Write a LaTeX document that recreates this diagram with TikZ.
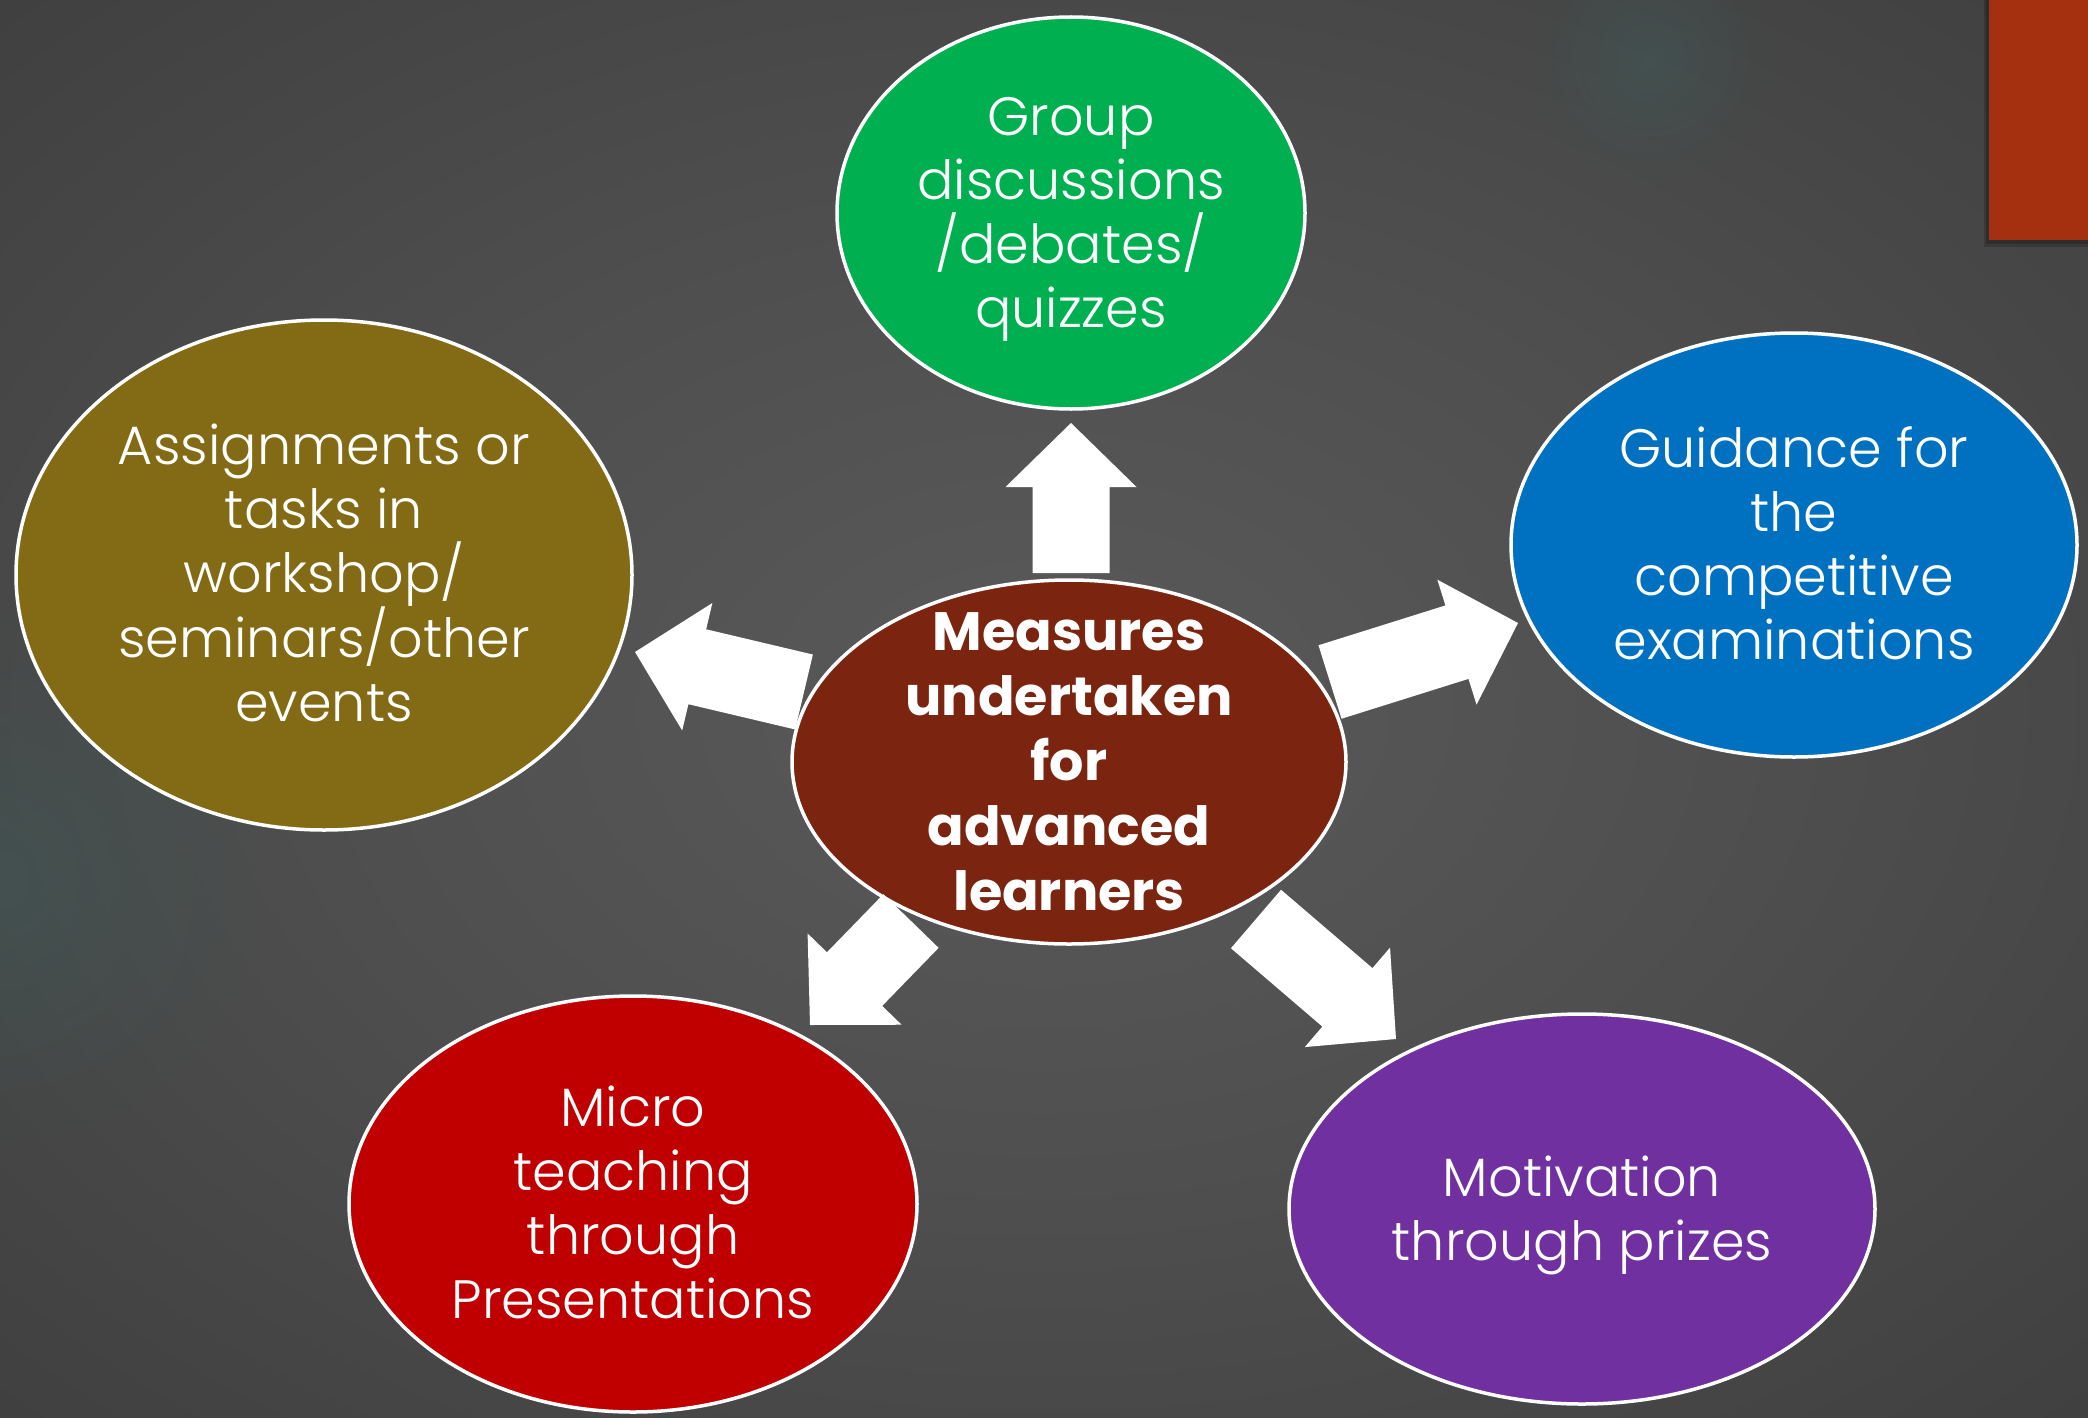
\documentclass[tikz,border=0pt]{standalone}
\usepackage{fontspec}
\setmainfont{Poppins}
\newfontfamily\lightfont{Poppins Light}
\usetikzlibrary{shapes.geometric,calc,fadings}
\definecolor{bgA}{HTML}{5A5A5A}
\definecolor{bgB}{HTML}{4E4E4E}
\definecolor{bgC}{HTML}{383838}
\definecolor{bgD}{HTML}{2A2A2A}
\definecolor{glow}{HTML}{3E5A58}
\definecolor{cmain}{HTML}{7B2410}
\definecolor{cgreen}{HTML}{00B050}
\definecolor{cblue}{HTML}{0070C0}
\definecolor{colive}{HTML}{836A14}
\definecolor{cred}{HTML}{C00000}
\definecolor{cpurple}{HTML}{7030A0}
\definecolor{crect}{HTML}{A5300F}
\pgfdeclareradialshading{bgshade}{\pgfpoint{0bp}{0bp}}{color(0bp)=(bgA); color(18bp)=(bgB); color(45bp)=(bgC); color(72bp)=(bgD)}
\tikzfading[name=glowfade, inner color=transparent!0, outer color=transparent!100]
\tikzset{
  bubble/.style={ellipse, draw=white, line width=3.5pt, inner sep=0pt},
  btext/.style={text=white, align=center, font=\lightfont\fontsize{54}{64}\selectfont},
  ctext/.style={text=white, align=center, font=\bfseries\fontsize{54}{65}\selectfont},
}
\newcommand\blockarr[2]{%
  \coordinate (B) at ($(#2)!64pt!(#1)$);
  \fill[white] ($(#1)!38.5pt!90:(#2)$) -- ($(B)!38.5pt!-90:(#1)$) -- ($(B)!65.5pt!-90:(#1)$) -- (#2)
     -- ($(B)!65.5pt!90:(#1)$) -- ($(B)!38.5pt!90:(#1)$) -- ($(#1)!38.5pt!-90:(#2)$) -- cycle;}
\begin{document}
\begin{tikzpicture}[x=1pt,y=-1pt]
\useasboundingbox (0,0) rectangle (2088,1418);
\shade[shading=bgshade] (0,0) rectangle (2088,1418);
\fill[glow, path fading=glowfade, opacity=0.5] (1650,60) circle (120);
\fill[glow, path fading=glowfade, opacity=0.5] (0,880) circle (260);
% top-right rectangle
\fill[black, opacity=0.18] (1984,0) rectangle (2088,247);
\fill[black, opacity=0.18] (1986,0) rectangle (2088,244);
\fill[crect] (1989,0) rectangle (2088,240);
% bubbles
\node[bubble, fill=cgreen, minimum width=468pt, minimum height=392pt] (g) at (1071,213) {};
\node[bubble, fill=cblue, minimum width=566pt, minimum height=424pt] (b) at (1794,545) {};
\node[bubble, fill=colive, minimum width=616pt, minimum height=510pt] (o) at (324,575) {};
\node[bubble, fill=cred, minimum width=568pt, minimum height=416pt] (r) at (633,1204) {};
\node[bubble, fill=cpurple, minimum width=586pt, minimum height=390pt] (p) at (1582,1209) {};
\node[bubble, fill=cmain, minimum width=554pt, minimum height=364pt] (c) at (1069,762) {};
% texts
\node[btext] (gt) at ([yshift=-6pt]g) {Group\\discussions\\/debates/\\quizzes};
\node[btext] (bt) at ([yshift=2pt]b) {Guidance for\\the\\competitive\\examinations};
\node[btext] (ot) at ([yshift=2pt]o) {Assignments or\\tasks in\\workshop/\\seminars/other\\events};
\node[btext] (rt) at ([yshift=2pt]r) {Micro\\teaching\\through\\Presentations};
\node[btext] (pt) at ([yshift=-6pt]p) {Motivation\\through prizes};
\node[ctext] (ct) at (c) {Measures\\undertaken\\for\\advanced\\learners};
% arrow anchor coordinates
\coordinate (t1) at (1071,573); \coordinate (h1) at (1071,423);
\coordinate (t2) at (1330,682); \coordinate (h2) at (1518,623);
\coordinate (t3) at (804,692);  \coordinate (h3) at (635,652);
\coordinate (t4) at (911,921);  \coordinate (h4) at (810,1025);
\coordinate (t5) at (1256,919); \coordinate (h5) at (1396,1039);
\blockarr{t1}{h1}
\blockarr{t2}{h2}
\blockarr{t3}{h3}
\blockarr{t4}{h4}
\blockarr{t5}{h5}
\end{tikzpicture}
\end{document}
